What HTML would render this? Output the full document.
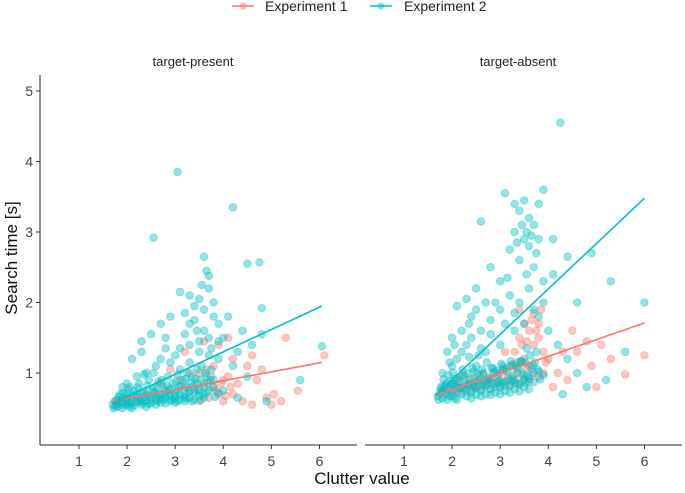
<!DOCTYPE html>
<html><head><meta charset="utf-8"><style>
body{margin:0;background:#fff}
svg text{font-family:"Liberation Sans",sans-serif}
</style></head><body>
<svg id="c" width="685" height="488" viewBox="0 0 685 488">
<g>
<line x1="232" y1="6" x2="254" y2="6" stroke="#F8766D" stroke-width="1.5"/><circle cx="243" cy="6" r="3.5" fill="#F8766D" opacity="0.5"/>
<text x="265" y="11" font-size="14" fill="#222">Experiment 1</text>
<line x1="370" y1="6" x2="392" y2="6" stroke="#00BFC4" stroke-width="1.5"/><circle cx="381" cy="6" r="3.5" fill="#00BFC4" opacity="0.5"/>
<text x="404" y="11" font-size="14" fill="#222">Experiment 2</text>
</g>
<text x="193" y="66" font-size="13" text-anchor="middle" fill="#222">target-present</text>
<text x="518" y="66" font-size="13" text-anchor="middle" fill="#222">target-absent</text>
<text transform="translate(17,258) rotate(-90)" font-size="17" text-anchor="middle" fill="#111">Search time [s]</text>
<text x="362" y="484" font-size="17" text-anchor="middle" fill="#111">Clutter value</text>
<g id="plot"></g>
</svg>
<script>
const xTicks=[1,2,3,4,5,6];
const yTicks=[1,2,3,4,5];
const bandBase=[[1.7,.55],[1.75,.6],[1.8,.52],[1.85,.58],[1.9,.65],[1.95,.55],[2.0,.6],[2.0,.7],[2.05,.52],[2.1,.62],[2.15,.75],[2.2,.58],[2.25,.66],[2.3,.55],[2.35,.72],[2.4,.6],[2.45,.68],[2.5,.57],[2.55,.78],[2.6,.63],[2.65,.7],[2.7,.58],[2.75,.8],[2.8,.65],[2.85,.72],[2.9,.6],[2.95,.85],[3.0,.68],[3.05,.75],[3.1,.62],[3.15,.9],[3.2,.7],[3.25,.8],[3.3,.65],[3.35,.95],[3.4,.72],[3.45,.85],[3.5,.68],[3.6,.8],[3.7,.75],[3.8,.9],[1.72,.5],[1.8,.62],[1.9,.5],[2.0,.55],[2.1,.5],[2.2,.66],[2.3,.62],[2.4,.52],[2.5,.66],[2.6,.55],[2.7,.7],[2.8,.57],[2.9,.68],[3.0,.58],[3.1,.7],[3.2,.6],[3.3,.75],[3.4,.62],[3.5,.78],[3.6,.65],[1.85,.7],[2.05,.8],[2.25,.85],[2.45,.9],[2.65,.88],[2.85,.95],[3.05,.98],[3.25,1.0],[3.45,1.05],[3.65,.95]];
const bandExtra=[[1.78,.56],[1.88,.6],[1.98,.64],[2.08,.57],[2.18,.7],[2.28,.6],[2.38,.66],[2.48,.62],[2.58,.72],[2.68,.64],[2.78,.68],[2.88,.76],[2.98,.64],[3.08,.8],[3.18,.66],[3.28,.72],[3.38,.82],[3.48,.74],[3.58,.7],[3.68,.86],[3.78,.8],[3.9,.72],[1.82,.66],[1.92,.72],[2.02,.76],[2.12,.68],[2.22,.8],[2.32,.74],[2.42,.82],[2.52,.74],[2.62,.8],[2.72,.9],[2.82,.82],[2.92,.78],[3.02,.88],[3.12,.82],[3.22,.92],[3.32,.86],[3.42,.92],[3.52,.9],[3.62,1.0],[3.72,.9],[1.76,.53],[2.03,.58],[2.33,.58],[2.63,.6],[2.93,.62],[3.23,.64],[3.53,.62],[3.83,.66],[2.15,.54],[2.45,.56],[2.75,.62],[3.05,.6],[3.35,.6],[3.65,.72],[3.75,1.05],[3.55,1.1],[2.55,1.0],[2.35,.98]];
const presentExp2=bandBase.concat(bandExtra,[[2.55,2.92],[3.05,3.85],[4.2,3.35],[3.6,2.65],[3.65,2.45],[3.7,2.38],[3.55,2.25],[4.5,2.55],[4.75,2.57],[3.1,2.15],[3.3,2.1],[3.5,2.05],[3.8,2.0],[4.8,1.92],[2.3,1.45],[2.5,1.55],[2.7,1.7],[2.9,1.8],[3.2,1.85],[3.4,1.75],[3.6,1.9],[3.9,1.7],[4.1,1.8],[4.4,1.6],[4.8,1.55],[2.1,1.2],[2.3,1.3],[2.6,1.1],[2.8,1.35],[3.0,1.25],[3.3,1.4],[3.5,1.3],[3.7,1.5],[3.9,1.2],[4.2,1.1],[4.5,.95],[4.9,.6],[5.6,.9],[6.05,1.38],[4.3,.65],[4.0,.75],[3.1,1.05],[3.3,1.15],[3.45,1.6],[3.75,1.35],[4.0,1.5],[2.4,1.0],[2.2,.95],[2.0,.85],[1.9,.8],[3.7,2.2],[3.4,1.95],[2.8,1.5],[3.6,1.6],[3.8,1.8],[4.6,1.4],[3.2,1.55],[3.5,1.45],[2.9,1.15],[3.7,1.25],[3.1,1.35],[3.3,1.7],[2.7,1.2],[3.9,1.45],[4.3,1.3]]);
const presentExp1=[[1.75,.6],[1.9,.55],[2.0,.65],[2.2,.6],[2.4,.7],[2.6,.65],[2.8,.75],[3.0,.7],[3.2,.8],[3.4,.75],[3.6,.85],[3.8,.8],[4.0,.9],[3.7,.65],[3.9,.7],[2.7,.85],[3.1,.9],[3.3,1.0],[3.2,1.3],[3.6,1.45],[3.9,1.4],[4.1,1.5],[4.2,1.2],[4.5,1.1],[4.7,.9],[4.9,.65],[5.05,.7],[5.3,1.5],[4.4,.6],[4.6,.55],[5.0,.55],[5.2,.6],[4.3,.85],[4.1,.95],[5.55,.75],[6.1,1.25],[4.8,1.05],[3.8,1.1],[3.5,1.0],[4.0,.6],[4.2,.7],[3.5,.6],[2.9,1.05],[4.6,1.25],[3.85,.75],[3.95,.85],[4.05,.68],[3.75,.95],[3.65,1.05],[4.15,.8]];
const absentExp2=bandBase.map(p=>[p[0],p[1]+0.12]).concat(bandExtra.map(p=>[p[0],p[1]+0.25]),[[4.25,4.55],[3.9,3.6],[3.1,3.55],[3.5,3.45],[3.4,3.3],[3.6,3.2],[3.7,3.1],[3.3,3.0],[3.5,2.9],[3.6,2.8],[3.8,2.9],[3.2,2.75],[3.4,2.6],[3.7,2.5],[3.9,2.3],[4.4,2.65],[4.6,2.0],[4.1,2.4],[2.6,3.15],[2.8,2.5],[3.0,2.3],[2.5,2.2],[2.3,2.05],[2.1,1.95],[2.4,1.8],[2.2,1.6],[2.0,1.5],[1.9,1.3],[2.1,1.2],[2.3,1.4],[2.6,1.6],[2.8,1.75],[3.0,1.9],[3.2,2.1],[3.4,2.0],[3.6,2.2],[3.8,1.8],[4.0,1.6],[4.2,1.4],[4.4,1.2],[4.6,1.0],[4.8,.8],[5.2,.9],[5.6,1.3],[6.0,2.0],[5.3,2.3],[4.9,2.7],[3.0,1.4],[3.3,1.6],[2.7,1.3],[2.5,1.1],[3.5,1.7],[3.9,2.0],[4.1,2.9],[3.3,3.4],[3.8,3.4],[2.9,2.0],[1.8,1.0],[2.0,1.1],[4.3,.7],[3.45,3.1],[3.55,3.0],[3.65,2.95],[3.75,2.7],[3.35,2.85],[2.2,1.3],[2.4,1.5],[2.6,1.35],[2.8,1.55],[3.1,1.7],[3.3,1.85],[3.7,1.9],[2.05,1.4],[2.35,1.7],[1.95,1.15],[2.5,1.9],[2.7,2.0],[3.15,2.35],[3.55,2.4]]);
const absentExp1=bandBase.slice(0,40).map(p=>[p[0]+0.1,p[1]+0.2]).concat([[3.3,1.3],[3.4,1.5],[3.5,1.7],[3.6,1.6],[3.7,1.85],[3.8,1.5],[3.9,1.3],[3.5,1.2],[3.6,1.1],[3.7,1.4],[3.8,1.7],[3.4,1.9],[3.2,1.1],[3.0,1.0],[2.8,.9],[4.0,1.2],[4.2,1.0],[4.5,1.6],[4.8,1.45],[5.0,.8],[5.3,1.2],[5.6,.98],[6.0,1.25],[4.4,.9],[4.6,1.3],[4.9,1.1],[5.1,1.4],[4.1,.8],[3.9,1.0],[3.1,1.3],[3.55,1.45],[3.65,1.75],[3.75,1.6],[3.85,1.9],[3.45,1.4],[3.35,1.15],[3.95,1.15],[4.3,1.3]]);
const fitPresent={e1:[1.7,.6,6.05,1.15],e2:[1.7,.57,6.05,1.95]};
const fitAbsent={e1:[1.65,.68,6.0,1.71],e2:[1.65,.68,6.0,3.48]};
const panels=[{x0:40,x1:357,name:'target-present',e1:presentExp1,e2:presentExp2,fit:fitPresent},{x0:365,x1:682,name:'target-absent',e1:absentExp1,e2:absentExp2,fit:fitAbsent}];
const NS='http://www.w3.org/2000/svg';
const plot=document.getElementById('plot');
const Y=v=>373-(v-1)*70.5;
function mk(t,a,p){const e=document.createElementNS(NS,t);for(const k in a)e.setAttribute(k,a[k]);(p||plot).appendChild(e);return e;}
panels.forEach((P,i)=>{
 const X=v=>P.x0+39+(v-1)*48.1;
 const g=mk('g',{});
 
 
 const ax=mk('line',{x1:P.x0,y1:445,x2:P.x1,y2:445,stroke:'#222','stroke-width':1},g);
 
 
 xTicks.forEach(t=>{mk('line',{x1:X(t),y1:445,x2:X(t),y2:449,stroke:'#333'},g);const tx=mk('text',{x:X(t),y:466,'font-size':14,'text-anchor':'middle',fill:'#444'},g);tx.textContent=t;
 
 });
 if(i==0){const ay=mk('line',{x1:40,y1:75,x2:40,y2:445,stroke:'#222'},g);
 
 
 yTicks.forEach(t=>{mk('line',{x1:36,y1:Y(t),x2:40,y2:Y(t),stroke:'#333'},g);const tx=mk('text',{x:33,y:Y(t)+5,'font-size':14,'text-anchor':'end',fill:'#444'},g);tx.textContent=t;
 
 });}
 [['e1','#F8766D'],['e2','#00BFC4']].forEach(([k,c])=>{P[k].forEach(p=>{const d=mk('circle',{cx:X(p[0]),cy:Y(p[1]),r:3.8,fill:c,'fill-opacity':0.42,stroke:c,'stroke-opacity':0.35},g);
 
 });});
 [['e1','#F8766D'],['e2','#00BFC4']].forEach(([k,c])=>{const f=P.fit[k];const l=mk('line',{x1:X(f[0]),y1:Y(f[1]),x2:X(f[2]),y2:Y(f[3]),stroke:c,'stroke-width':1.6},g);
 
 });
});
</script>
</body></html>
